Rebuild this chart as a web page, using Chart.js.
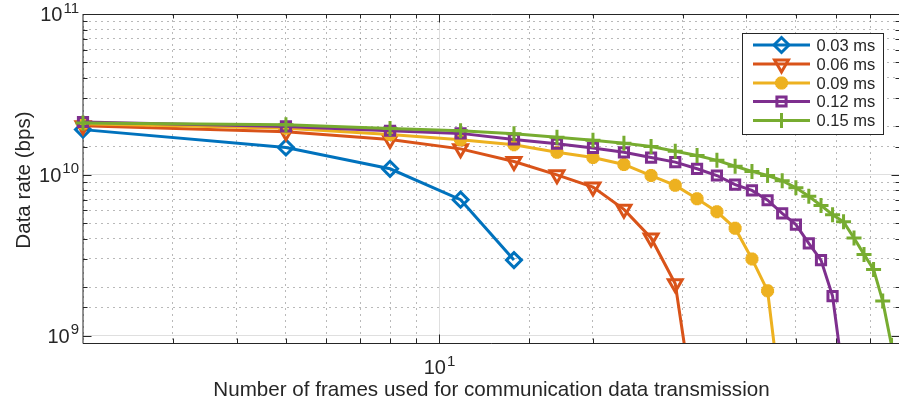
<!DOCTYPE html>
<html>
<head>
<meta charset="utf-8">
<script src="https://cdn.jsdelivr.net/npm/chart.js@4/dist/chart.umd.min.js"></script>
<style>
  html, body { margin: 0; padding: 0; background: #fff; overflow: hidden; }
  #wrap { width: 920px; height: 404px; }
</style>
</head>
<body>
<div id="wrap"><canvas id="rateChart" width="920" height="404"></canvas></div>
<script>
// フレーム数（全系列で共通のx値）
const frames = [2, 5, 8, 11, 14, 17, 20, 23, 26, 29, 32, 35, 38, 41, 44, 47, 50, 53, 56, 59, 62, 65, 68, 71, 74, 77];

// 各遅延ごとのデータレート (bps)
const rate003 = [19.1e9, 14.8e9, 10.9e9, 7.0e9, 2.95e9];
const rate006 = [20.2e9, 18.5e9, 16.6e9, 14.5e9, 12.1e9, 10.0e9, 8.4e9, 6.1e9, 4.05e9, 2.1e9, 0.26e9];
const rate009 = [20.8e9, 19.5e9, 17.8e9, 16.5e9, 15.4e9, 13.8e9, 12.8e9, 11.6e9, 9.9e9, 8.6e9, 7.1e9, 5.9e9, 4.65e9, 3.0e9, 1.9e9, 0.34e9];
const rate012 = [21.3e9, 20.0e9, 18.8e9, 18.1e9, 16.6e9, 15.6e9, 14.7e9, 13.8e9, 12.8e9, 12.0e9, 10.9e9, 9.9e9, 8.7e9, 8.0e9, 6.95e9, 5.75e9, 4.9e9, 3.75e9, 2.95e9, 1.76e9, 0.54e9];
const rate015 = [21.0e9, 20.5e9, 19.4e9, 18.8e9, 18.0e9, 17.1e9, 16.4e9, 15.7e9, 15.0e9, 14.0e9, 13.2e9, 12.3e9, 11.3e9, 10.5e9, 9.9e9, 9.2e9, 8.3e9, 7.35e9, 6.45e9, 5.65e9, 5.1e9, 4.05e9, 3.2e9, 2.58e9, 1.64e9, 0.87e9];

const seriesLabels = ["0.03 ms", "0.06 ms", "0.09 ms", "0.12 ms", "0.15 ms"];

// 目盛りラベル（10のべき）
const xTickExponents = [1];
const yTickExponents = [9, 10, 11];

const xLabel = "Number of frames used for communication data transmission";
const yLabel = "Data rate (bps)";

const FONT = "'Liberation Sans', Arial, Helvetica, sans-serif";
const TEXT_COLOR = "#262626";

// MATLAB風の色とマーカー
const styles = [
    { color: "#0072BD", pointStyle: "rectRot", radius: 7.5, rotation: 0, border: 3 },
    { color: "#D95319", pointStyle: "triangle", radius: 8, rotation: 180, border: 3 },
    { color: "#EDB120", pointStyle: "star", radius: 6.5, rotation: 0, border: 4.5 },
    { color: "#7E2F8E", pointStyle: "rect", radius: 6.5, rotation: 0, border: 3 },
    { color: "#77AC30", pointStyle: "cross", radius: 7.5, rotation: 0, border: 3 },
];

const toPoints = (values) => values.map((v, i) => ({ x: frames[i], y: v }));
const isDecade = (v) => v > 0 && Math.abs(Math.log10(v) - Math.round(Math.log10(v))) < 1e-9;

const datasets = [rate003, rate006, rate009, rate012, rate015].map((values, i) => ({
    label: seriesLabels[i],
    data: toPoints(values),
    borderColor: styles[i].color,
    backgroundColor: styles[i].color,
    borderWidth: 3,
    pointStyle: styles[i].pointStyle,
    pointRadius: styles[i].radius,
    pointRotation: styles[i].rotation,
    pointBorderWidth: styles[i].border,
    pointBorderColor: styles[i].color,
    pointBackgroundColor: "rgba(0,0,0,0)",
    tension: 0,
    order: 5 - i, // 後の系列を上に描く
    clip: { left: 12, top: 12, right: 0, bottom: 0 },
}));

// 10^n 形式のラベルを描く
function drawPower(ctx, exp, x, y, align) {
    const baseFont = "20px " + FONT;
    const expFont = "15px " + FONT;
    ctx.font = baseFont;
    const wBase = ctx.measureText("10").width;
    ctx.font = expFont;
    const wExp = ctx.measureText(String(exp)).width;
    const total = wBase + wExp + 1;
    let left = x;
    if (align === "right") left = x - total;
    if (align === "center") left = x - total / 2;
    ctx.textAlign = "left";
    ctx.textBaseline = "alphabetic";
    ctx.font = baseFont;
    ctx.fillText("10", left, y);
    ctx.font = expFont;
    ctx.fillText(String(exp), left + wBase + 1, y - 8.5);
}

// 枠・内向き目盛り・目盛りラベル・軸タイトル
const matlabAxes = {
    id: "matlabAxes",
    beforeDatasetsDraw(chart) {
        const { ctx, chartArea: a, scales } = chart;
        ctx.save();
        ctx.strokeStyle = TEXT_COLOR;
        ctx.lineWidth = 1;
        ctx.beginPath();
        scales.x.ticks.forEach((t) => {
            const px = Math.round(scales.x.getPixelForValue(t.value)) + 0.5;
            if (px < a.left + 1 || px > a.right - 1) return;
            const len = isDecade(t.value) ? 8.5 : 4.5;
            ctx.moveTo(px, a.bottom);
            ctx.lineTo(px, a.bottom - len);
            ctx.moveTo(px, a.top);
            ctx.lineTo(px, a.top + len);
        });
        scales.y.ticks.forEach((t) => {
            const py = Math.round(scales.y.getPixelForValue(t.value)) + 0.5;
            if (py < a.top + 1 || py > a.bottom - 1) return;
            const len = isDecade(t.value) ? 8.5 : 4.5;
            ctx.moveTo(a.left, py);
            ctx.lineTo(a.left + len, py);
            ctx.moveTo(a.right, py);
            ctx.lineTo(a.right - len, py);
        });
        ctx.stroke();

        // 枠線
        ctx.beginPath();
        ctx.moveTo(a.left, a.top + 0.5);
        ctx.lineTo(a.right, a.top + 0.5);
        ctx.moveTo(a.left, a.top);
        ctx.lineTo(a.left, a.bottom + 0.5);
        ctx.moveTo(a.left, a.bottom + 0.5);
        ctx.lineTo(a.right, a.bottom + 0.5);
        ctx.moveTo(a.right + 0.5, a.top);
        ctx.lineTo(a.right + 0.5, a.bottom);
        ctx.stroke();

        ctx.fillStyle = TEXT_COLOR;
        xTickExponents.forEach((e) => {
            const px = scales.x.getPixelForValue(Math.pow(10, e));
            drawPower(ctx, e, px, a.bottom + 31, "center");
        });
        yTickExponents.forEach((e) => {
            const py = scales.y.getPixelForValue(Math.pow(10, e));
            drawPower(ctx, e, a.left - 4, py + 7, "right");
        });

        ctx.font = "20.6px " + FONT;
        ctx.textAlign = "center";
        ctx.textBaseline = "alphabetic";
        ctx.fillText(xLabel, (a.left + a.right) / 2, 396);

        ctx.translate(29.5, 180);
        ctx.rotate(-Math.PI / 2);
        ctx.fillText(yLabel, 0, 0);
        ctx.restore();
    },
    afterDatasetsDraw(chart) {
        // 凡例（線＋マーカー）
        const { ctx } = chart;
        const box = { x: 742.5, y: 33.5, w: 141, h: 101 };
        const rowY = [45, 64, 83, 101.5, 120.5];
        ctx.save();
        ctx.fillStyle = "#fff";
        ctx.fillRect(box.x, box.y, box.w, box.h);
        ctx.strokeStyle = TEXT_COLOR;
        ctx.lineWidth = 1;
        ctx.strokeRect(box.x, box.y, box.w, box.h);
        chart.data.datasets.forEach((ds, i) => {
            const y = rowY[i];
            ctx.strokeStyle = ds.borderColor;
            ctx.lineWidth = 3;
            ctx.beginPath();
            ctx.moveTo(753, y);
            ctx.lineTo(810, y);
            ctx.stroke();
            ctx.fillStyle = "rgba(0,0,0,0)";
            ctx.lineWidth = ds.pointBorderWidth;
            if (Chart.helpers && Chart.helpers.drawPoint) {
                Chart.helpers.drawPoint(ctx, {
                    pointStyle: ds.pointStyle,
                    rotation: ds.pointRotation,
                    radius: ds.pointRadius,
                    borderWidth: ds.pointBorderWidth,
                }, 781.5, y);
            }
            ctx.fillStyle = TEXT_COLOR;
            ctx.font = "16.5px " + FONT;
            ctx.textAlign = "left";
            ctx.textBaseline = "middle";
            ctx.fillText(ds.label, 816.5, y + 1);
        });
        ctx.restore();
    },
};

const gridColor = (c) => (isDecade(c.tick && c.tick.value) ? "rgba(38,38,38,0.15)" : "rgba(38,38,38,0.32)");
const gridDash = (c) => (isDecade(c.tick && c.tick.value) ? [] : [2, 4]);

new Chart(document.getElementById("rateChart").getContext("2d"), {
    type: "line",
    data: { datasets },
    options: {
        responsive: false,
        animation: false,
        layout: { padding: { left: 83, top: 14, right: 20, bottom: 61 } },
        scales: {
            x: {
                type: "logarithmic",
                min: 2,
                max: 80,
                ticks: { display: false },
                grid: { color: gridColor, lineWidth: 1, drawTicks: false },
                border: { display: false, dash: gridDash },
            },
            y: {
                type: "logarithmic",
                min: 9e8,
                max: 1e11,
                ticks: { display: false },
                grid: { color: gridColor, lineWidth: 1, drawTicks: false },
                border: { display: false, dash: gridDash },
            },
        },
        plugins: {
            legend: { display: false },
            tooltip: { enabled: false },
        },
    },
    plugins: [matlabAxes],
});
</script>
</body>
</html>
